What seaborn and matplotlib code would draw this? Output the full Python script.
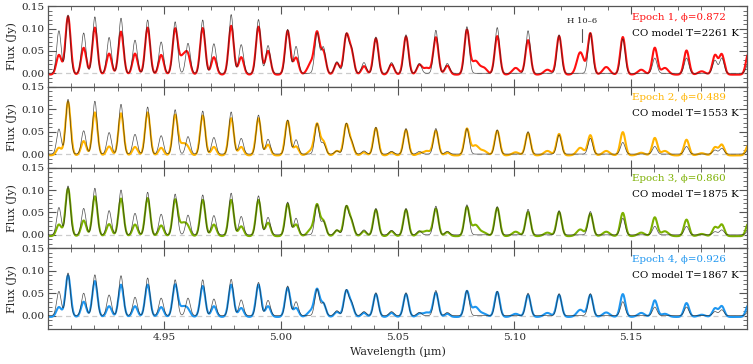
import numpy as np
import pandas as pd
import matplotlib
matplotlib.use("Agg")
import matplotlib.pyplot as plt
from matplotlib.ticker import MultipleLocator, FormatStrFormatter
import seaborn as sns

# ---------------- data ----------------
# CO line centres (µm)
line_centers = [4.8972, 4.9049, 4.9088, 4.9155, 4.9203, 4.9264, 4.9315, 4.9375, 4.9429, 4.9487,
                4.9547, 4.9602, 4.9665, 4.9713, 4.9787, 4.9830, 4.9904, 4.9945, 5.0029, 5.0065,
                5.0155, 5.0182, 5.0240, 5.0280, 5.0302, 5.0356, 5.0407, 5.0474, 5.0536, 5.0593,
                5.0664, 5.0713, 5.0797, 5.0927, 5.1059, 5.1192, 5.1326, 5.1465, 5.1602, 5.1738,
                5.1860, 5.1889, 5.2004]
# extra observed features (humps, H 10-6 line, continuum bumps)
extra_centers = [4.9580, 5.0129, 5.0625, 5.0833, 5.0869, 5.1006, 5.1142, 5.1283, 5.1394, 5.1544,
                 5.1645, 5.1803]

model_peaks_1 = [0.12, 0.095, 0.13, 0.09, 0.126, 0.08, 0.123, 0.074, 0.119, 0.07,
                 0.115, 0.067, 0.119, 0.066, 0.131, 0.064, 0.12, 0.062, 0.098, 0.06,
                 0.09, 0.058, 0.026, 0.086, 0.055, 0.024, 0.081, 0.024, 0.086, 0.022,
                 0.096, 0.022, 0.104, 0.102, 0.095, 0.086, 0.09, 0.077, 0.034, 0.034,
                 0.029, 0.034, 0.024]
obs_peaks_1 = [0.12, 0.044, 0.13, 0.06, 0.105, 0.047, 0.096, 0.047, 0.105, 0.044,
               0.10, 0.035, 0.104, 0.039, 0.109, 0.039, 0.107, 0.053, 0.098, 0.038,
               0.089, 0.05, 0.026, 0.084, 0.05, 0.019, 0.081, 0.023, 0.085, 0.021,
               0.083, 0.02, 0.099, 0.086, 0.077, 0.086, 0.092, 0.084, 0.06, 0.054,
               0.043, 0.045, 0.05]
obs_extra_1 = [0.04, 0.025, 0.015, 0.03, 0.015, 0.015, 0.011, 0.05, 0.017, 0.011, 0.015, 0.0075]

model_peaks_2 = [0.11, 0.056, 0.122, 0.052, 0.118, 0.048, 0.111, 0.044, 0.105, 0.041,
                 0.099, 0.039, 0.096, 0.037, 0.094, 0.035, 0.087, 0.033, 0.076, 0.032,
                 0.068, 0.024, 0.007, 0.067, 0.028, 0.007, 0.06, 0.006, 0.057, 0.006,
                 0.057, 0.006, 0.057, 0.054, 0.05, 0.043, 0.035, 0.026, 0.017, 0.017,
                 0.009, 0.013, 0.009]
obs_peaks_2 = [0.11, 0.017, 0.12, 0.032, 0.096, 0.02, 0.094, 0.019, 0.096, 0.017,
               0.089, 0.012, 0.089, 0.019, 0.083, 0.019, 0.083, 0.024, 0.077, 0.02,
               0.068, 0.03, 0.01, 0.067, 0.025, 0.007, 0.061, 0.007, 0.057, 0.004,
               0.055, 0.006, 0.059, 0.055, 0.05, 0.048, 0.045, 0.052, 0.039, 0.035,
               0.018, 0.024, 0.024]
obs_extra_2 = [0.025, 0.01, 0.01, 0.022, 0.01, 0.007, 0.01, 0.017, 0.01, 0.006, 0.01, 0.005]

model_peaks_3 = [0.10, 0.061, 0.109, 0.059, 0.104, 0.054, 0.10, 0.048, 0.095, 0.046,
                 0.091, 0.044, 0.089, 0.043, 0.093, 0.041, 0.087, 0.039, 0.073, 0.037,
                 0.067, 0.03, 0.011, 0.063, 0.033, 0.011, 0.059, 0.01, 0.059, 0.009,
                 0.064, 0.008, 0.067, 0.063, 0.057, 0.054, 0.052, 0.037, 0.019, 0.019,
                 0.007, 0.011, 0.01]
obs_peaks_3 = [0.10, 0.026, 0.107, 0.035, 0.089, 0.027, 0.084, 0.026, 0.085, 0.024,
               0.08, 0.015, 0.081, 0.026, 0.081, 0.022, 0.081, 0.03, 0.072, 0.026,
               0.067, 0.033, 0.013, 0.063, 0.03, 0.011, 0.059, 0.011, 0.059, 0.009,
               0.061, 0.009, 0.064, 0.063, 0.054, 0.054, 0.05, 0.052, 0.042, 0.037,
               0.02, 0.026, 0.03]
obs_extra_3 = [0.028, 0.015, 0.012, 0.025, 0.008, 0.01, 0.008, 0.015, 0.01, 0.008, 0.011, 0.005]

model_peaks_4 = [0.09, 0.054, 0.095, 0.05, 0.091, 0.046, 0.089, 0.041, 0.084, 0.039,
                 0.08, 0.039, 0.08, 0.037, 0.081, 0.035, 0.074, 0.034, 0.066, 0.031,
                 0.059, 0.028, 0.011, 0.056, 0.029, 0.009, 0.051, 0.009, 0.051, 0.007,
                 0.056, 0.007, 0.056, 0.054, 0.05, 0.049, 0.049, 0.031, 0.019, 0.019,
                 0.009, 0.013, 0.009]
obs_peaks_4 = [0.09, 0.022, 0.093, 0.034, 0.08, 0.024, 0.072, 0.024, 0.072, 0.022,
               0.071, 0.012, 0.069, 0.024, 0.072, 0.02, 0.072, 0.024, 0.065, 0.02,
               0.059, 0.029, 0.011, 0.056, 0.026, 0.009, 0.051, 0.009, 0.051, 0.007,
               0.054, 0.007, 0.057, 0.056, 0.049, 0.049, 0.049, 0.051, 0.037, 0.031,
               0.019, 0.024, 0.028]
obs_extra_4 = [0.022, 0.013, 0.01, 0.022, 0.007, 0.007, 0.009, 0.016, 0.01, 0.009, 0.007, 0.005]

epoch_labels = ["Epoch 1, ϕ=0.872", "Epoch 2, ϕ=0.489", "Epoch 3, ϕ=0.860", "Epoch 4, ϕ=0.926"]
model_labels = ["CO model T=2261 K", "CO model T=1553 K", "CO model T=1875 K", "CO model T=1867 K"]
epoch_colors = ["#ff1010", "#ffb400", "#7cb000", "#1e96f0"]

model_sets = [model_peaks_1, model_peaks_2, model_peaks_3, model_peaks_4]
obs_sets = [obs_peaks_1, obs_peaks_2, obs_peaks_3, obs_peaks_4]
extra_sets = [obs_extra_1, obs_extra_2, obs_extra_3, obs_extra_4]

# line profile widths (µm, Gaussian sigma)
SIG_MODEL, SIG_OBS, SIG_EXTRA = 0.00095, 0.00110, 0.0015
OBS_OFFSET = -0.003


def spectrum(wl, centers, peaks, sigma):
    out = np.zeros_like(wl)
    for c, p in zip(centers, peaks):
        out += p * np.exp(-0.5 * ((wl - c) / sigma) ** 2)
    return out


wl = np.arange(4.895, 5.205, 0.0001)

sns.set_theme(style="ticks")
plt.rcParams["font.family"] = ["DejaVu Serif", "DejaVu Sans"]
plt.rcParams["mathtext.fontset"] = "dejavuserif"

fig, axes = plt.subplots(4, 1, figsize=(7.53, 3.64), dpi=100, sharex=True)
fig.subplots_adjust(left=0.064, right=0.992, top=0.9835, bottom=0.096, hspace=0)

spine_col = "#555555"
for i, ax in enumerate(axes):
    model = spectrum(wl, line_centers, model_sets[i], SIG_MODEL)
    obs = (spectrum(wl, line_centers, obs_sets[i], SIG_OBS)
           + spectrum(wl, extra_centers, extra_sets[i], SIG_EXTRA) + OBS_OFFSET)
    df = pd.DataFrame({"wl": wl, "model": model, "obs": obs})

    ax.axhline(0, color="#cccccc", lw=0.9, ls=(0, (4, 3)), zorder=1)
    sns.lineplot(data=df, x="wl", y="obs", ax=ax, color=epoch_colors[i], lw=1.5,
                 estimator=None, zorder=2)
    sns.lineplot(data=df, x="wl", y="model", ax=ax, color="#222222", lw=0.5,
                 alpha=0.8, estimator=None, zorder=3)

    ax.set_xlim(4.9003, 5.1997)
    ax.set_ylim(-0.03, 0.1502)
    ax.yaxis.set_major_locator(MultipleLocator(0.05))
    ax.yaxis.set_minor_locator(MultipleLocator(0.01))
    ax.yaxis.set_major_formatter(FormatStrFormatter("%.2f"))
    ax.xaxis.set_major_locator(MultipleLocator(0.05))
    ax.xaxis.set_minor_locator(MultipleLocator(0.01))
    ax.xaxis.set_major_formatter(FormatStrFormatter("%.2f"))
    ax.tick_params(which="both", direction="in", top=True, right=True,
                   color=spine_col, labelsize=7.5, pad=3)
    ax.tick_params(which="major", length=6, width=0.8)
    ax.tick_params(which="minor", length=3, width=0.6)
    for s in ax.spines.values():
        s.set_color(spine_col)
        s.set_linewidth(0.9)
    ax.set_ylabel("Flux (Jy)", fontsize=8, labelpad=3)
    ax.set_xlabel("")

    ax.text(0.835, 0.862, epoch_labels[i], transform=ax.transAxes, color=epoch_colors[i],
            fontsize=7.4, ha="left", va="center")
    ax.text(0.835, 0.665, model_labels[i], transform=ax.transAxes, color="black",
            fontsize=7.4, ha="left", va="center")

axes[0].text(5.1290, 0.117, "H 10–6", fontsize=6, ha="center", va="center", color="#222222")
axes[0].plot([5.1290, 5.1290], [0.069, 0.0995], color="#555555", lw=0.8)

axes[-1].set_xlabel("Wavelength (µm)", fontsize=8, labelpad=3)

fig.savefig("out.png", dpi=100)
